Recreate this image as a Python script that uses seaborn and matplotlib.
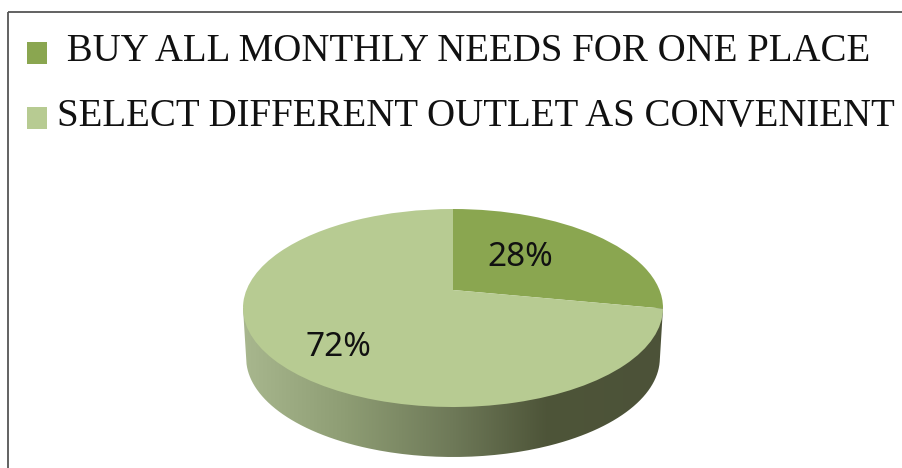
import numpy as np
import matplotlib
matplotlib.use("Agg")
import matplotlib.pyplot as plt
import seaborn as sns
from matplotlib.colors import LinearSegmentedColormap
from matplotlib.patches import PathPatch, Rectangle
from matplotlib.path import Path
from matplotlib.transforms import Transform

# Survey shares
categories = ["BUY ALL MONTHLY NEEDS FOR ONE PLACE", "SELECT DIFFERENT OUTLET AS CONVENIENT"]
shares = [28, 72]
slice_colors = ["#8AA650", "#B7CB92"]
rim_colors = ["#A8B78E", "#8D9C73", "#6E7958", "#4E5539", "#4C5238"]

WIDTH, HEIGHT = 903, 468
CX, APEX_Y, RX = 453.0, 290.0, 206.5
PERSP_B, PERSP_C = -43.0, 36.0 / 198.0
RIM_DEPTH = 50.0


def project(x, y):
    """Perspective projection of a point on the unit disc to pixel coordinates."""
    w = 1.0 + PERSP_C * y
    return CX + RX * x / w, (APEX_Y + PERSP_B * y) / w


class TiltedDisc(Transform):
    """Projects the unit disc onto the tilted pie top."""
    input_dims = output_dims = 2

    def transform_non_affine(self, values):
        values = np.asarray(values, dtype=float)
        return np.column_stack(project(values[:, 0], values[:, 1]))


sns.set_theme(style="white")
palette = sns.color_palette(slice_colors)

fig = plt.figure(figsize=(WIDTH / 100, HEIGHT / 100), dpi=100, facecolor="white")
ax = fig.add_axes([0, 0, 1, 1])

wedges, _, pct_texts = ax.pie(
    shares, colors=palette, startangle=90, counterclock=False,
    autopct="%.0f%%", textprops=dict(family="Noto Sans", fontsize=24, color="#111111"),
)
ax.set_aspect("auto")
ax.set(xlim=(0, WIDTH), ylim=(HEIGHT, 0))
ax.set_axis_off()

disc = TiltedDisc()
for wedge in wedges:
    wedge.set_transform(disc + ax.transData)
    wedge.set_linewidth(0)
    wedge.set_zorder(3)

for text, pos in zip(pct_texts, [(520, 258), (338, 347)]):
    text.set_position(pos)
    text.set_ha("center")
    text.set_va("center")
    text.set_zorder(4)

# Rim of the pie: a horizontal shade clipped to the lower outline
theta = np.linspace(0, 2 * np.pi, 400)
edge_x, edge_y = project(np.cos(theta), np.sin(theta))
mid_y = 308.0
order = np.argsort(edge_x[edge_y >= mid_y])
lower_x = CX + (edge_x[edge_y >= mid_y][order] - CX) * 0.985
lower_y = edge_y[edge_y >= mid_y][order] + RIM_DEPTH
rim_outline = np.column_stack([
    np.r_[CX - 210, lower_x, CX + 210],
    np.r_[mid_y, lower_y, mid_y],
])
rim_path = PathPatch(Path(rim_outline), transform=ax.transData, facecolor="none", edgecolor="none")
ax.add_patch(rim_path)
rim_cmap = LinearSegmentedColormap.from_list("rim", list(zip([0, 0.25, 0.5, 0.72, 1], rim_colors)))
rim = ax.imshow(
    np.linspace(0, 1, 256)[None, :], cmap=rim_cmap, aspect="auto",
    extent=(CX - 210, CX + 210, 460, 300), zorder=2,
)
rim.set_clip_path(rim_path)
ax.set(xlim=(0, WIDTH), ylim=(HEIGHT, 0))

# Chart border, running off the right and bottom edges
ax.add_patch(Rectangle((8, 12), WIDTH, HEIGHT, fill=False, edgecolor="#555555", linewidth=1.3, zorder=5))

legend = ax.legend(
    wedges, [" " + categories[0], categories[1]],
    loc="upper left", bbox_to_anchor=(27 / WIDTH, 1 - 33 / HEIGHT), bbox_transform=ax.transAxes,
    frameon=False, borderpad=0, borderaxespad=0,
    prop=dict(family="Liberation Serif", size=28),
    handlelength=0.514, handleheight=0.514, handletextpad=0.26, labelspacing=0.73,
)
for handle_text in legend.get_texts():
    handle_text.set_color("#111111")
# Sit the swatches a little lower against the capitals
for handle in legend.legend_handles:
    handle.set_y(handle.get_y() - 4)

fig.savefig("out.png", dpi=100, facecolor="white")
